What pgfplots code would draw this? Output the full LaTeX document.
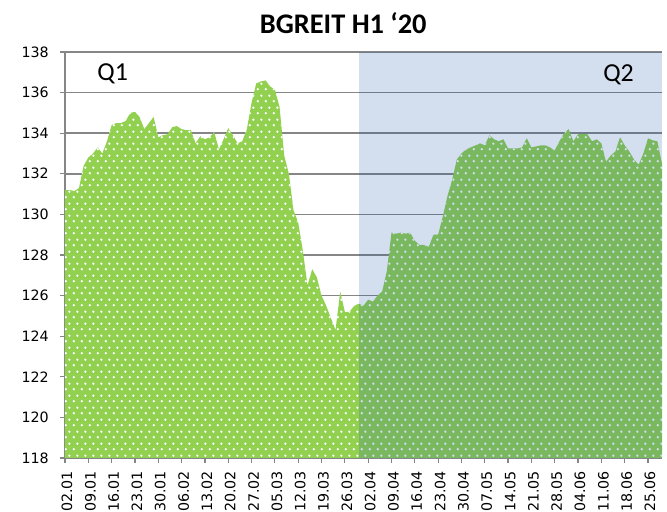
\documentclass[border=0pt]{standalone}
\usepackage{fontspec}
\setmainfont{Carlito}
\newfontfamily\dejavu{DejaVu Sans}
\usepackage{pgfplots}
\pgfplotsset{compat=1.18}
\usepackage{pgfplotstable}
\usetikzlibrary{patterns.meta}

\definecolor{qgreen}{RGB}{146,208,80}
\definecolor{qblue}{RGB}{23,81,165}
\definecolor{gridgray}{RGB}{134,134,134}

\tikzdeclarepattern{
  name=wdots,
  type=uncolored,
  bounding box={(0,0) and (8bp,12bp)},
  tile size={(8bp,12bp)},
  code={
    \fill (2bp,3bp) circle (1.4bp);
    \fill (6bp,9bp) circle (1.4bp);
  }
}

% index = trading day of H1 2020, value = index level
\pgfplotstableread{
i v
0 131.2
1 131.2
2 131.15
3 131.3
4 132.4
5 132.8
6 133.0
7 133.3
8 133.0
9 133.6
10 134.4
11 134.5
12 134.5
13 134.6
14 135.0
15 135.05
16 134.8
17 134.2
18 134.5
19 134.8
20 133.8
21 133.9
22 133.95
23 134.3
24 134.35
25 134.2
26 134.15
27 134.15
28 133.5
29 133.85
30 133.7
31 133.8
32 134.05
33 133.2
34 133.7
35 134.25
36 133.9
37 133.5
38 133.6
39 134.2
40 135.5
41 136.45
42 136.55
43 136.6
44 136.3
45 136.15
46 135.3
47 132.9
48 132.0
49 130.2
50 129.6
51 128.2
52 126.5
53 127.3
54 126.9
55 126.0
56 125.5
57 124.9
58 124.3
59 126.2
60 125.2
61 125.2
62 125.5
63 125.6
64 125.5
65 125.8
66 125.7
67 126.0
68 126.2
69 127.2
70 129.1
71 129.05
72 129.1
73 129.05
74 129.1
75 128.7
76 128.5
77 128.5
78 128.4
79 129.0
80 129.0
81 129.9
82 130.9
83 131.7
84 132.7
85 133.0
86 133.2
87 133.3
88 133.4
89 133.5
90 133.4
91 133.9
92 133.7
93 133.6
94 133.7
95 133.25
96 133.25
97 133.25
98 133.3
99 133.75
100 133.3
101 133.35
102 133.4
103 133.4
104 133.3
105 133.15
106 133.6
107 134.0
108 134.2
109 133.6
110 133.95
111 133.95
112 133.95
113 133.6
114 133.7
115 133.5
116 132.6
117 132.9
118 133.1
119 133.8
120 133.4
121 133.1
122 132.7
123 132.45
124 133.0
125 133.75
126 133.65
127 133.6
128 132.5
}\bgreit

\begin{document}
\begin{tikzpicture}
\begin{axis}[
  scale only axis,
  width=597bp, height=406bp,
  xmin=0, xmax=128, ymin=118, ymax=138,
  axis lines*=left,
  axis line style={draw=gridgray, line width=1.2bp},
  tick style={draw=gridgray, line width=1.2bp},
  tick align=outside,
  major tick length=5bp,
  ytick={118,120,...,138},
  xtick={0,5,...,125},
  xticklabels={02.01,09.01,16.01,23.01,30.01,06.02,13.02,20.02,27.02,05.03,12.03,19.03,26.03,02.04,09.04,16.04,23.04,30.04,07.05,14.05,21.05,28.05,04.06,11.06,18.06,25.06},
  ymajorgrids,
  major grid style={draw=gridgray, line width=1.6bp},
  /pgf/number format/assume math mode=true,
  ticklabel style={font=\dejavu\fontsize{14.3}{15}\selectfont},
  xticklabel style={rotate=90, anchor=east, inner sep=0pt, xshift=-8bp, yshift=-2bp},
  yticklabel style={inner sep=0pt, xshift=-11bp},
  clip=false,
]
\addplot[draw=none, fill=qgreen, postaction={pattern=wdots, pattern color=white}]
  table[x=i, y=v] {\bgreit} \closedcycle;
\addplot[draw=none, fill=qblue, fill opacity=0.19]
  coordinates {(63.1,118) (63.1,138) (128,138) (128,118)};
\node[anchor=base west, font=\fontsize{26}{28}\selectfont, inner sep=0pt] at (axis cs:6.9,136.59) {Q1};
\node[anchor=base east, font=\fontsize{26}{28}\selectfont, inner sep=0pt] at (axis cs:122,136.54) {Q2};
\node[anchor=base, font=\bfseries\fontsize{28.5}{30}\selectfont, inner sep=0pt] at (rel axis cs:0.466,1) [yshift=18.7bp] {BGREIT H1 ‘20};
\coordinate (sw) at (rel axis cs:0,0);
\coordinate (ne) at (rel axis cs:1,1);
\end{axis}
\path ([shift={(-65bp,-52bp)}]sw) rectangle ([shift={(5bp,52bp)}]ne);
\end{tikzpicture}
\end{document}
